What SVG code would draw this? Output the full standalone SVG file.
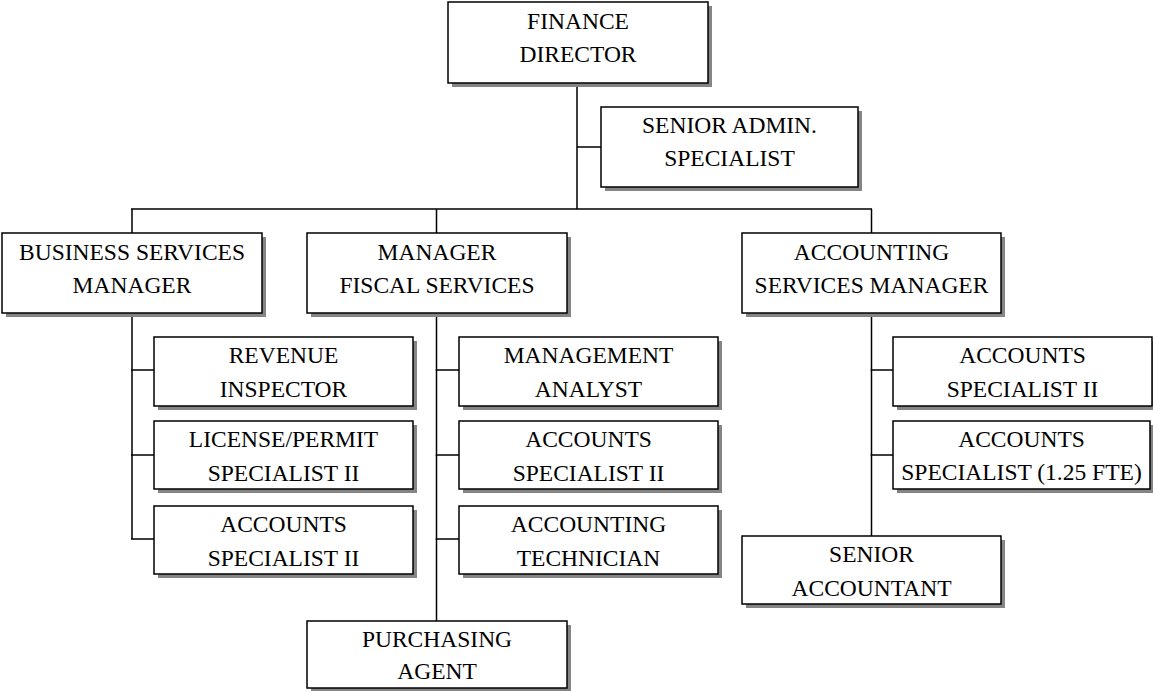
<svg xmlns="http://www.w3.org/2000/svg" width="1153" height="691" viewBox="0 0 1153 691">
<style>
.sh{fill:#858585}
.bx{fill:#fff;stroke:#000;stroke-width:1.5}
.t{font-family:"Liberation Serif","Times New Roman",serif;font-size:23.5px;fill:#000;text-anchor:middle}
.c{stroke:#000;stroke-width:1.5;fill:none}
</style>
<rect width="1153" height="691" fill="#fff"/>
<g id="connectors">
<path class="c" d="M577,83V209M577,147H601M131,209H872M132,209V233M436.5,209V233M871.5,209V233"/>
<path class="c" d="M132,313V539M131,370H154M131,455H154M131,539H154"/>
<path class="c" d="M436.5,313V621M435.5,370H459M435.5,455H459M435.5,539H459"/>
<path class="c" d="M871.5,313V536M870.5,370H893M870.5,455H893"/>
</g>
<g id="finance-director"><rect class="sh" x="452" y="6" width="260" height="81"/><rect class="bx" x="448" y="2" width="260" height="81"/><text class="t" x="578" y="29">FINANCE</text><text class="t" x="578" y="62">DIRECTOR</text></g>
<g id="senior-admin"><rect class="sh" x="605" y="111" width="257" height="80"/><rect class="bx" x="601" y="107" width="257" height="80"/><text class="t" x="729.5" y="133">SENIOR ADMIN.</text><text class="t" x="729.5" y="166">SPECIALIST</text></g>
<g id="business-services-manager"><rect class="sh" x="6" y="237" width="260" height="80"/><rect class="bx" x="2" y="233" width="260" height="80"/><text class="t" x="132" y="260">BUSINESS SERVICES</text><text class="t" x="132" y="293">MANAGER</text></g>
<g id="manager-fiscal-services"><rect class="sh" x="311" y="237" width="260" height="80"/><rect class="bx" x="307" y="233" width="260" height="80"/><text class="t" x="437" y="260">MANAGER</text><text class="t" x="437" y="293">FISCAL SERVICES</text></g>
<g id="accounting-services-manager"><rect class="sh" x="746" y="237" width="259" height="80"/><rect class="bx" x="742" y="233" width="259" height="80"/><text class="t" x="871.5" y="260">ACCOUNTING</text><text class="t" x="871.5" y="293">SERVICES MANAGER</text></g>
<g id="revenue-inspector"><rect class="sh" x="158" y="341" width="259" height="69"/><rect class="bx" x="154" y="337" width="259" height="69"/><text class="t" x="283.5" y="363">REVENUE</text><text class="t" x="283.5" y="397">INSPECTOR</text></g>
<g id="license-permit"><rect class="sh" x="158" y="425" width="259" height="68"/><rect class="bx" x="154" y="421" width="259" height="68"/><text class="t" x="283.5" y="447">LICENSE/PERMIT</text><text class="t" x="283.5" y="481">SPECIALIST II</text></g>
<g id="accounts-specialist-bs"><rect class="sh" x="158" y="510" width="259" height="68"/><rect class="bx" x="154" y="506" width="259" height="68"/><text class="t" x="283.5" y="532">ACCOUNTS</text><text class="t" x="283.5" y="566">SPECIALIST II</text></g>
<g id="management-analyst"><rect class="sh" x="463" y="341" width="259" height="69"/><rect class="bx" x="459" y="337" width="259" height="69"/><text class="t" x="588.5" y="363">MANAGEMENT</text><text class="t" x="588.5" y="397">ANALYST</text></g>
<g id="accounts-specialist-fs"><rect class="sh" x="463" y="425" width="259" height="68"/><rect class="bx" x="459" y="421" width="259" height="68"/><text class="t" x="588.5" y="447">ACCOUNTS</text><text class="t" x="588.5" y="481">SPECIALIST II</text></g>
<g id="accounting-technician"><rect class="sh" x="463" y="510" width="259" height="68"/><rect class="bx" x="459" y="506" width="259" height="68"/><text class="t" x="588.5" y="532">ACCOUNTING</text><text class="t" x="588.5" y="566">TECHNICIAN</text></g>
<g id="purchasing-agent"><rect class="sh" x="311" y="625" width="260" height="67"/><rect class="bx" x="307" y="621" width="260" height="67"/><text class="t" x="437" y="647">PURCHASING</text><text class="t" x="437" y="679">AGENT</text></g>
<g id="accounts-specialist-as"><rect class="sh" x="897" y="341" width="259" height="69"/><rect class="bx" x="893" y="337" width="259" height="69"/><text class="t" x="1022.5" y="363">ACCOUNTS</text><text class="t" x="1022.5" y="397">SPECIALIST II</text></g>
<g id="accounts-specialist-125"><rect class="sh" x="897" y="425" width="257" height="68"/><rect class="bx" x="893" y="421" width="257" height="68"/><text class="t" x="1021.5" y="447">ACCOUNTS</text><text class="t" x="1021.5" y="480">SPECIALIST (1.25 FTE)</text></g>
<g id="senior-accountant"><rect class="sh" x="746" y="540" width="259" height="68"/><rect class="bx" x="742" y="536" width="259" height="68"/><text class="t" x="871.5" y="562">SENIOR</text><text class="t" x="871.5" y="596">ACCOUNTANT</text></g>
</svg>
